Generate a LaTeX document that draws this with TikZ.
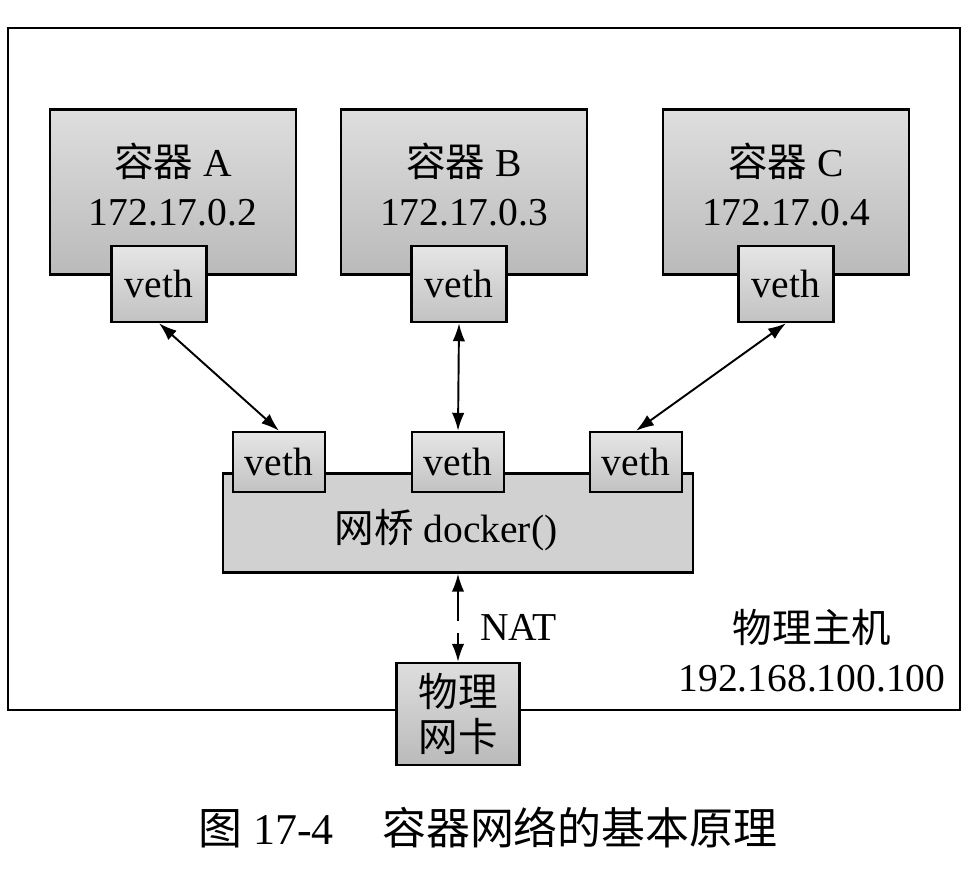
\documentclass[tikz,border=0pt]{standalone}
\usepackage{fontspec}
\setmainfont{Liberation Serif}
\newfontfamily\cjk{Noto Sans CJK SC}
\usetikzlibrary{arrows.meta}
\begin{document}
\begin{tikzpicture}[x=0.02cm, y=-0.02cm,
  font=\fontsize{22.5}{28}\selectfont,
  >={Latex[length=0.36cm,width=0.25cm]},
  ctbox/.style={draw, line width=1.4pt, top color=black!13, bottom color=black!27, minimum width=4.92cm, minimum height=3.3cm, align=center},
  vethbox/.style={draw, line width=1.4pt, top color=black!10, bottom color=black!24, minimum width=1.9cm, minimum height=1.52cm, inner sep=0pt},
  bvethbox/.style={vethbox, minimum width=1.84cm, minimum height=1.2cm},
  link/.style={<->, line width=1.1pt}]
\useasboundingbox (0,0) rectangle (980,894);
\node[draw, line width=1.3pt, minimum width=19.04cm, minimum height=13.64cm] (host) at (484,369) {};
\node[ctbox] (ctA) at (173,192) {{\cjk 容器} A\\172.17.0.2\\[-19pt]};
\node[ctbox] (ctB) at (464,192) {{\cjk 容器} B\\172.17.0.3\\[-19pt]};
\node[ctbox] (ctC) at (786,192) {{\cjk 容器} C\\172.17.0.4\\[-19pt]};
\node[vethbox] (vethA) at (159,284) {veth};
\node[vethbox] (vethB) at (459,284) {veth};
\node[vethbox] (vethC) at (786,284) {veth};
\node[draw, line width=1.4pt, fill=black!18, minimum width=9.4cm, minimum height=1.98cm] (bridge) at (458,523) {};
\node (bridgelabel) at (446,530) {{\cjk 网桥} docker()};
\node[bvethbox] (bvethA) at (279,462) {veth};
\node[bvethbox] (bvethB) at (458,462) {veth};
\node[bvethbox] (bvethC) at (636,462) {veth};
\node[draw, line width=1.4pt, top color=black!13, bottom color=black!27, minimum width=2.46cm, minimum height=2.04cm, align=center, font=\fontsize{22.5}{26}\selectfont] (nic) at (458,714) {{\cjk 物理}\\{\cjk 网卡}};
\node[align=center] (hostlabel) at (812,651) {{\cjk 物理主机}\\192.168.100.100};
\node[anchor=west] (nat) at (474,627) {NAT};
\node (caption) at (488,828) {\fontsize{25}{30}\selectfont{\cjk 图} 17-4\hspace{1.1em}{\cjk 容器网络的基本原理}};
\draw[link] (vethA.south) -- (bvethA.north);
\draw[link] (vethB.south) -- (bvethB.north);
\draw[link] (vethC.south) -- (bvethC.north);
\draw[link, dash pattern=on 0.6cm off 0.24cm] (bridge.south) -- (nic.north);
\end{tikzpicture}
\end{document}
